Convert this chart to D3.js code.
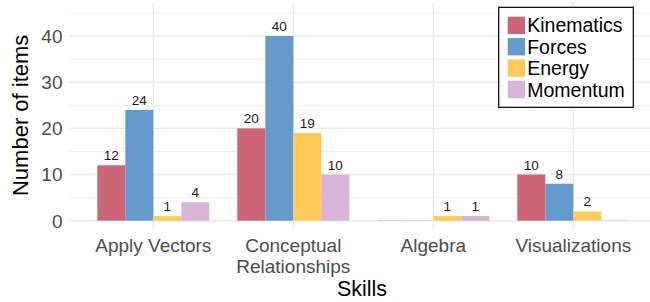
<!DOCTYPE html>
<html>
<head>
<meta charset="utf-8">
<script src="https://cdn.jsdelivr.net/npm/d3@7"></script>
<style>
  body { margin: 0; background: #fff; }
  svg { display: block; font-family: "Liberation Sans", Arial, sans-serif; }
</style>
</head>
<body>
<script>
// data
const skills = ["Apply Vectors", "Conceptual\nRelationships", "Algebra", "Visualizations"];
const topics = ["Kinematics", "Forces", "Energy", "Momentum"];
const kinematics = [12, 20, 0, 10];
const forces = [24, 40, 0, 8];
const energy = [1, 19, 1, 2];
const momentum = [4, 10, 1, 0];
const yTicks = [0, 10, 20, 30, 40];
const yMinor = [5, 15, 25, 35, 45];
const colors = ["#CC6677", "#6699CC", "#FFCA57", "#D7B4D8"];

const series = [kinematics, forces, energy, momentum];
const rows = [];
skills.forEach((s, i) => topics.forEach((t, j) => rows.push({ skill: s, topic: t, value: series[j][i] })));

const width = 650, height = 302;
const svg = d3.select("body").append("svg").attr("width", width).attr("height", height);

// panel
const panel = { left: 69.3, right: 657.3, top: 2.7, bottom: 230 };
const x = d3.scaleBand().domain(skills).range([panel.left, panel.right]).paddingInner(0.2).paddingOuter(0.2);
const x1 = d3.scaleBand().domain(topics).range([0, x.bandwidth()]);
const y = d3.scaleLinear().domain([0, 40]).range([220.7, 36]);
const color = d3.scaleOrdinal().domain(topics).range(colors);

const grid = svg.append("g");
grid.selectAll("line.minor").data(yMinor).enter().append("line")
  .attr("x1", panel.left).attr("x2", width)
  .attr("y1", d => y(d)).attr("y2", d => y(d))
  .attr("stroke", "#EBEBEB").attr("stroke-width", 0.8);
grid.selectAll("line.major").data(yTicks).enter().append("line")
  .attr("x1", panel.left).attr("x2", width)
  .attr("y1", d => y(d)).attr("y2", d => y(d))
  .attr("stroke", "#EBEBEB").attr("stroke-width", 1.4);
grid.selectAll("line.vert").data(skills).enter().append("line")
  .attr("x1", d => x(d) + x.bandwidth() / 2).attr("x2", d => x(d) + x.bandwidth() / 2)
  .attr("y1", panel.top).attr("y2", panel.bottom)
  .attr("stroke", "#EBEBEB").attr("stroke-width", 1.4);

// bars
svg.append("g").selectAll("rect").data(rows).enter().append("rect")
  .attr("x", d => x(d.skill) + x1(d.topic))
  .attr("width", x1.bandwidth())
  .attr("y", d => d.value > 0 ? y(d.value) : y(0) - 1)
  .attr("height", d => d.value > 0 ? y(0) - y(d.value) : 1)
  .attr("fill", d => color(d.topic))
  .attr("opacity", d => d.value > 0 ? 1 : 0.3);

// value labels
svg.append("g").selectAll("text").data(rows.filter(d => d.value > 0)).enter().append("text")
  .attr("x", d => x(d.skill) + x1(d.topic) + x1.bandwidth() / 2)
  .attr("y", d => y(d.value) - 5)
  .attr("text-anchor", "middle")
  .attr("font-size", 13.5)
  .attr("fill", "#1a1a1a")
  .text(d => d.value);

// y axis
svg.append("g").selectAll("text").data(yTicks).enter().append("text")
  .attr("x", 62.5).attr("y", d => y(d)).attr("dy", "0.36em")
  .attr("text-anchor", "end").attr("font-size", 19).attr("fill", "#4D4D4D")
  .text(d => d);

// x axis
const xl = svg.append("g").selectAll("text").data(skills).enter().append("text")
  .attr("x", d => x(d) + x.bandwidth() / 2).attr("y", 252.3)
  .attr("text-anchor", "middle").attr("font-size", 19).attr("fill", "#4D4D4D");
xl.selectAll("tspan").data(d => d.split("\n")).enter().append("tspan")
  .attr("x", function () { return d3.select(this.parentNode).attr("x"); })
  .attr("dy", (d, i) => i === 0 ? 0 : 20.4)
  .text(d => d);

// titles
svg.append("text").attr("x", 362).attr("y", 296)
  .attr("text-anchor", "middle").attr("font-size", 21.5).attr("fill", "#000").text("Skills");
svg.append("text").attr("transform", `translate(28,${(panel.top + panel.bottom) / 2 - 1}) rotate(-90)`)
  .attr("text-anchor", "middle").attr("font-size", 22).attr("fill", "#000").text("Number of items");

// legend
const lg = svg.append("g").attr("transform", "translate(498.7,7.3)");
lg.append("rect").attr("width", 134.6).attr("height", 100)
  .attr("fill", "#fff").attr("stroke", "#000").attr("stroke-width", 1.2);
const item = lg.selectAll("g").data(topics).enter().append("g")
  .attr("transform", (d, i) => `translate(9,${9.4 + i * 21.4})`);
item.append("rect").attr("width", 17.3).attr("height", 17.3).attr("fill", d => color(d));
item.append("text").attr("x", 19.5).attr("y", 8.6).attr("dy", "0.36em")
  .attr("font-size", 19.5).attr("fill", "#000").text(d => d);
</script>
</body>
</html>
